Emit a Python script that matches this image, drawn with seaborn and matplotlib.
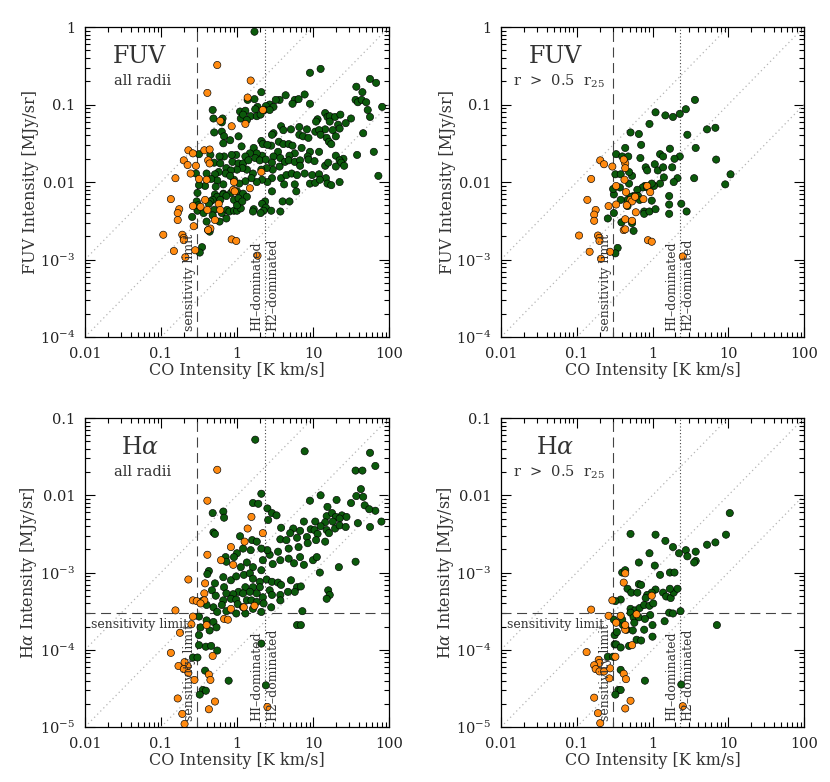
import numpy as np
import pandas as pd
import matplotlib
matplotlib.use('Agg')
import matplotlib.pyplot as plt
import matplotlib.transforms as mtransforms
import seaborn as sns
from matplotlib.ticker import FixedLocator, FixedFormatter, LogLocator, NullFormatter

# values, stored as log10
# x = CO intensity [K km/s], y = FUV or Halpha intensity [MJy/sr]
# g = green points, o = orange points

# FUV, all radii
fuv_all_g_co = [0.23, 0.96, 1.10, 1.57, 1.75, 1.83, 0.32, 1.65, 0.89, 0.14, 0.23, 0.56, 0.64, 0.76, 0.81, 0.73,
                0.51, 0.43, 0.48, 0.38, 0.27, 0.24, 0.36, 0.43, -0.32, 0.04, 0.11, 0.18, 0.26, 0.05, 0.31, 0.08,
                1.56, 1.59, 1.64, 1.70, 1.72, 0.96, 1.75, 1.91, -0.31, -0.19, -0.20, 0.13, 1.06, 1.04, 1.16, 1.19,
                1.22, 1.29, 1.36, 1.50, 1.33, 1.22, 1.43, 1.26, 1.35, 1.16, 0.58, 0.71, 0.82, 0.92, 1.03, 1.08,
                0.82, 0.87, 0.94, 1.10, 1.18, 1.30, 1.21, 1.24, 1.66, -0.30, -0.20, -0.17, 0.02, 0.48, 0.61, 0.46,
                -0.18, -0.09, 0.06, 0.22, 0.32, 0.34, 0.45, 0.40, 0.55, 0.61, 0.68, 0.73, 0.85, 0.96, 1.08, 0.93,
                0.54, 0.48, 0.33, 0.26, 0.17, 0.11, -0.01, -0.07, -0.17, -0.23, -0.35, -0.50, -0.30, 1.58, 1.80, 1.30,
                1.40, 0.76, 0.69, -0.22, -0.14, -0.06, 0.02, 0.08, 0.15, 0.24, 0.30, 0.38, 0.46, 0.57, 0.63, 0.68,
                0.76, 0.83, 0.94, 0.83, 1.02, 1.16, 1.35, 1.37, 1.41, 1.20, 0.56, 0.47, 0.39, 0.32, 0.21, 0.13,
                0.07, 0.00, -0.08, -0.15, -0.24, -0.29, -0.54, -0.40, 0.58, 0.65, 0.72, 0.79, 0.89, 0.99, 1.08, 1.17,
                1.30, 0.96, 1.03, 1.09, 1.19, 1.24, 1.35, 1.86, 0.62, 0.76, 0.46, 0.40, 0.33, 0.26, 0.19, 0.11,
                0.03, -0.04, -0.09, -0.18, -0.26, -0.34, -0.42, -0.50, -0.52, -0.28, -0.18, -0.08, 0.00, 0.08, -0.29, -0.26,
                -0.18, -0.32, -0.35, -0.14, -0.22, -0.04, 0.02, 0.13, 0.60, 0.69, 0.46, 0.78, 0.37, 0.33, 0.38, 0.35,
                0.22, 0.45, 0.57, -0.53, -0.52, -0.44, -0.37, -0.30, -0.20, -0.13, -0.10, -0.04, 0.00, 0.05, 0.00, 0.21,
                0.07, -0.51, -0.32, -0.14, -0.23, -0.59, -0.40, -0.38, -0.36, -0.46, -0.49, 0.31]
fuv_all_g_y = [-0.06, -0.59, -0.54, -0.77, -0.67, -0.72, -0.84, -0.84, -0.87, -0.94, -0.93, -0.94, -0.88, -0.94, -0.93, -0.99,
               -0.94, -1.00, -1.03, -1.02, -1.03, -1.06, -1.07, -1.07, -1.07, -1.09, -1.08, -1.15, -1.15, -1.18, -1.13, -1.13,
               -0.94, -0.97, -0.94, -0.97, -1.07, -0.99, -1.16, -1.03, -1.18, -1.18, -1.23, -1.20, -1.19, -1.22, -1.11, -1.16,
               -1.15, -1.16, -1.13, -1.18, -1.26, -1.22, -1.24, -1.33, -1.31, -1.32, -1.28, -1.32, -1.29, -1.32, -1.35, -1.33,
               -1.39, -1.41, -1.43, -1.39, -1.43, -1.41, -1.48, -1.51, -1.37, -1.36, -1.35, -1.41, -1.41, -1.37, -1.33, -1.39,
               -1.50, -1.46, -1.54, -1.56, -1.47, -1.51, -1.53, -1.52, -1.48, -1.51, -1.51, -1.53, -1.56, -1.61, -1.61, -1.67,
               -1.61, -1.67, -1.66, -1.63, -1.63, -1.67, -1.65, -1.65, -1.67, -1.67, -1.65, -1.64, -1.75, -1.65, -1.61, -1.66,
               -1.70, -1.63, -1.66, -1.76, -1.82, -1.74, -1.76, -1.76, -1.72, -1.69, -1.72, -1.71, -1.75, -1.69, -1.74, -1.72,
               -1.74, -1.72, -1.71, -1.79, -1.73, -1.79, -1.72, -1.75, -1.79, -1.75, -1.80, -1.84, -1.82, -1.84, -1.89, -1.84,
               -1.82, -1.84, -1.85, -1.89, -1.87, -1.90, -1.89, -1.89, -1.95, -1.91, -1.89, -1.91, -1.89, -1.91, -1.90, -1.95,
               -1.80, -2.02, -2.01, -1.97, -2.02, -2.04, -2.00, -1.92, -2.03, -2.03, -1.95, -2.00, -1.97, -2.00, -1.95, -1.99,
               -2.02, -1.97, -1.92, -2.03, -1.98, -1.96, -2.05, -2.04, -2.14, -2.06, -2.15, -2.14, -2.12, -2.15, -2.16, -2.19,
               -2.16, -2.23, -2.25, -2.18, -2.23, -2.23, -2.21, -2.19, -2.25, -2.25, -2.12, -2.12, -2.25, -2.28, -2.33, -2.37,
               -2.35, -2.37, -2.38, -2.25, -2.37, -2.40, -2.28, -2.36, -2.40, -2.36, -2.38, -2.37, -2.37, -2.34, -2.30, -2.38,
               -2.25, -2.30, -2.43, -2.47, -2.51, -2.45, -2.51, -2.62, -2.64, -2.84, -2.91, -2.40]
fuv_all_o_co = [-0.26, 0.18, -0.39, 0.14, 0.34, -0.22, -0.07, 0.11, -0.64, -0.58, -0.43, -0.36, -0.70, -0.65, -0.38, -0.36,
                -0.54, -0.81, -0.61, -0.50, -0.40, -0.87, -0.76, -0.78, -0.78, -0.58, -0.42, -0.48, -0.39, -0.29, -0.57, -0.35,
                -0.38, -0.97, -0.72, -0.70, -0.70, -0.07, -0.01, -0.83, -0.68, -0.55, 0.27, -0.05, -0.03, 0.17, 0.32, -0.24,
                -0.22, -0.04]
fuv_all_o_y = [-0.49, -0.69, -0.85, -0.91, -1.07, -1.21, -1.28, -1.25, -1.59, -1.63, -1.59, -1.58, -1.72, -1.78, -1.72, -1.76,
               -1.79, -1.95, -1.89, -1.96, -1.97, -2.22, -2.35, -2.40, -2.49, -2.31, -2.23, -2.32, -2.36, -2.49, -2.57, -2.60,
               -2.62, -2.68, -2.68, -2.72, -2.75, -2.74, -2.76, -2.89, -2.97, -2.88, -2.95, -2.10, -2.12, -2.08, -1.87, -2.28,
               -2.36, -2.00]

# FUV, r > 0.5 r25
fuv_out_g_co = [0.56, 0.04, 0.17, 0.27, 0.36, 0.44, -0.04, -0.29, -0.18, 0.72, 0.83, 0.46, -0.15, -0.36, -0.48, -0.40,
                -0.32, -0.16, 0.23, 0.57, 0.10, 0.14, 0.36, 0.29, 0.84, 0.03, 0.07, 0.14, 0.26, -0.09, -0.49, -0.42,
                -0.27, -0.31, -0.07, 0.33, 0.28, 0.15, 0.10, 0.02, -0.01, -0.10, -0.13, 0.55, 1.03, 0.96, -0.20, -0.31,
                -0.43, -0.51, -0.52, -0.25, -0.29, -0.19, -0.33, -0.17, -0.07, -0.01, -0.42, -0.33, -0.11, -0.11, -0.04, 0.04,
                0.22, 0.22, 0.22, 0.38, 0.45, -0.51, -0.59, -0.41, -0.27, -0.25, -0.46, -0.49]
fuv_out_g_y = [-0.94, -1.10, -1.14, -1.16, -1.12, -1.06, -1.25, -1.36, -1.38, -1.32, -1.30, -1.39, -1.52, -1.56, -1.64, -1.67,
               -1.67, -1.69, -1.57, -1.56, -1.64, -1.67, -1.67, -1.70, -1.71, -1.77, -1.85, -1.81, -1.81, -1.81, -1.90, -1.90,
               -1.92, -1.87, -1.85, -1.95, -2.00, -1.94, -2.02, -2.05, -2.02, -2.05, -2.07, -1.95, -1.90, -2.03, -2.10, -2.02,
               -2.07, -2.16, -2.09, -2.18, -2.19, -2.18, -2.23, -2.23, -2.07, -2.24, -2.23, -2.31, -2.38, -2.41, -2.38, -2.35,
               -2.18, -2.29, -2.41, -2.28, -2.38, -2.40, -2.47, -2.52, -2.53, -2.63, -2.85, -2.92]
fuv_out_o_co = [-0.69, -0.64, -0.53, -0.81, -0.36, -0.38, -0.36, -0.37, -0.48, -0.35, -0.86, -0.48, -0.58, -0.29, -0.27, -0.34,
                -0.75, -0.77, -0.77, -0.22, -0.36, -0.27, -0.38, -0.36, -0.97, -0.72, -0.70, -0.70, -0.06, -0.01, -0.83, -0.68,
                -0.56, 0.40, -0.07, -0.03, -0.23, -0.12]
fuv_out_o_y = [-1.72, -1.77, -1.80, -1.96, -1.76, -1.71, -1.82, -1.97, -2.05, -2.13, -2.23, -2.29, -2.31, -2.23, -2.25, -2.30,
               -2.36, -2.42, -2.50, -2.39, -2.48, -2.50, -2.62, -2.61, -2.69, -2.69, -2.72, -2.76, -2.75, -2.77, -2.90, -2.99,
               -2.90, -2.96, -2.05, -2.13, -2.19, -2.22]

# Halpha, all radii
ha_all_g_co = [0.24, 0.89, 1.75, 1.82, 1.56, 1.65, 0.32, 0.96, 1.10, 1.57, 1.63, 1.68, 1.66, 1.82, 1.74, 1.90,
               1.50, 1.19, 1.31, 1.59, 1.75, 1.56, 0.40, 0.46, 0.52, 0.21, 0.28, -0.32, -0.18, -0.17, -0.31, -0.29,
               0.41, 0.58, 0.74, 0.88, 1.03, 1.18, 1.25, 1.30, 1.38, 1.44, 1.35, 1.26, 1.16, 1.10, 0.97, 1.02,
               0.83, 0.70, 0.57, 0.65, 0.79, 0.92, 1.06, 1.18, 1.29, 1.35, 1.43, 1.21, 1.16, 1.04, 0.93, 0.81,
               0.68, 0.54, 0.43, 0.34, 0.40, 0.32, 0.18, 0.08, 0.04, 0.20, 0.26, 0.00, -0.15, -0.14, -0.04, 0.05,
               0.13, 0.21, 0.32, 0.47, 0.57, 0.68, 0.75, 0.83, 0.88, 1.00, 1.09, 1.34, 1.05, -0.37, -0.39, -0.18,
               -0.17, -0.29, -0.33, -0.08, -0.01, 0.09, 0.17, 0.21, 0.30, 0.39, 0.46, 0.54, 0.58, 0.71, 0.79, 0.84,
               1.20, 1.22, 1.18, 0.30, 0.21, 0.11, 0.02, 0.08, 0.17, 0.26, 0.34, 0.43, 0.46, 0.57, 0.67, 0.76,
               -0.05, -0.14, -0.08, -0.01, 0.13, 0.19, 0.26, 0.35, 0.45, 0.57, -0.28, -0.18, -0.20, -0.31, -0.26, -0.40,
               -0.46, 0.01, 0.08, 0.21, 0.32, 0.11, -0.01, -0.14, 0.86, 0.79, 0.84, -0.50, -0.40, -0.31, -0.48, -0.36,
               -0.27, -0.50, -0.50, -0.41, -0.34, -0.26, -0.58, -0.52, -0.42, 0.32, -0.11, -0.45, -0.41, -0.49, 0.38]
ha_all_g_y = [-1.28, -1.43, -1.45, -1.62, -1.68, -1.68, -1.98, -2.07, -2.00, -2.01, -1.92, -2.13, -2.02, -2.20, -2.18, -2.34,
              -2.10, -2.15, -2.06, -2.36, -2.41, -2.86, -2.17, -2.23, -2.26, -2.10, -2.11, -2.23, -2.21, -2.29, -2.48, -2.50,
              -2.32, -2.42, -2.43, -2.34, -2.34, -2.27, -2.23, -2.28, -2.26, -2.28, -2.30, -2.34, -2.35, -2.40, -2.44, -2.45,
              -2.46, -2.49, -2.57, -2.58, -2.55, -2.54, -2.50, -2.45, -2.43, -2.39, -2.41, -2.49, -2.60, -2.58, -2.62, -2.67,
              -2.69, -2.73, -2.77, -2.84, -2.71, -2.69, -2.71, -2.69, -2.53, -2.58, -2.60, -2.75, -2.80, -2.86, -2.80, -2.93,
              -2.87, -2.93, -2.97, -2.89, -2.84, -2.82, -2.88, -2.80, -2.90, -2.84, -3.00, -2.93, -2.80, -2.98, -3.02, -3.06,
              -3.19, -3.14, -3.23, -3.10, -3.05, -3.03, -3.01, -3.08, -3.12, -3.09, -3.12, -3.13, -3.16, -3.10, -3.19, -3.18,
              -3.23, -3.29, -3.34, -3.19, -3.19, -3.19, -3.25, -3.27, -3.25, -3.27, -3.32, -3.23, -3.29, -3.29, -3.25, -3.25,
              -3.28, -3.27, -3.34, -3.35, -3.36, -3.36, -3.38, -3.40, -3.45, -3.36, -3.30, -3.36, -3.42, -3.45, -3.51, -3.42,
              -3.37, -3.41, -3.45, -3.47, -3.51, -3.53, -3.53, -3.50, -3.50, -3.68, -3.68, -3.57, -3.62, -3.64, -3.71, -3.75,
              -3.71, -3.81, -3.94, -3.96, -3.95, -4.01, -4.10, -4.10, -4.27, -3.92, -4.40, -4.52, -4.53, -4.58, -4.46]
ha_all_o_co = [-0.26, -0.39, 0.19, 0.14, 0.34, -0.08, -0.39, -0.21, -0.05, 0.10, -0.64, -0.42, -0.43, -0.58, -0.53, -0.81,
               -0.58, -0.75, -0.60, -0.87, -0.77, -0.65, -0.69, -0.70, -0.64, -0.56, -0.37, -0.35, -0.78, -0.72, -0.69, -0.37,
               -0.29, 0.40, -0.40, -0.32, 0.23, 0.09, -0.17, -0.12, -0.43, -0.48, -0.08]
ha_all_o_y = [-1.67, -2.07, -2.28, -2.43, -2.49, -2.67, -2.77, -2.84, -2.90, -2.60, -3.09, -3.14, -3.27, -3.36, -3.37, -3.49,
              -3.57, -3.78, -3.67, -4.04, -4.21, -4.21, -4.16, -4.25, -4.30, -4.39, -4.32, -4.39, -4.63, -4.83, -4.96, -4.77,
              -4.67, -4.74, -3.68, -4.08, -3.43, -3.45, -3.60, -3.61, -3.36, -3.40, -3.47]

# Halpha, r > 0.5 r25
ha_out_g_co = [1.02, 0.04, -0.29, 0.17, 0.27, -0.04, 0.35, 0.44, 0.46, 0.57, 0.57, 0.55, 0.72, 0.83, 0.97, -0.18,
               0.03, -0.40, -0.36, 0.10, 0.23, 0.29, -0.18, -0.33, -0.28, -0.20, -0.15, 0.04, 0.14, 0.18, 0.24, 0.28,
               0.23, 0.33, -0.01, -0.07, -0.09, -0.42, -0.49, -0.51, -0.29, -0.23, -0.17, -0.29, -0.25, -0.18, -0.11, -0.04,
               0.01, -0.03, -0.10, -0.24, -0.39, -0.34, -0.26, -0.40, 0.22, 0.27, 0.37, 0.16, 0.00, -0.11, -0.21, -0.31,
               -0.15, 0.00, -0.50, -0.50, -0.48, -0.59, -0.52, -0.42, -0.47, -0.42, -0.10, -0.45, -0.42, -0.49, 0.38, 0.85]
ha_out_g_y = [-2.23, -2.51, -2.50, -2.59, -2.67, -2.75, -2.75, -2.71, -2.79, -2.73, -2.85, -2.87, -2.64, -2.61, -2.51, -2.87,
              -2.91, -3.00, -2.97, -3.03, -3.00, -3.00, -3.15, -3.21, -3.26, -3.26, -3.16, -3.22, -3.26, -3.31, -3.33, -3.26,
              -3.21, -3.21, -3.26, -3.29, -3.33, -3.35, -3.37, -3.61, -3.47, -3.49, -3.46, -3.52, -3.58, -3.58, -3.42, -3.43,
              -3.40, -3.55, -3.60, -3.65, -3.68, -3.74, -3.75, -3.61, -3.52, -3.53, -3.50, -3.63, -3.68, -3.74, -3.87, -3.95,
              -3.88, -3.83, -3.81, -3.93, -3.93, -4.09, -4.09, -3.97, -3.77, -4.26, -4.40, -4.52, -4.52, -4.58, -4.45, -3.68]
ha_out_o_co = [-0.81, -0.53, -0.58, -0.38, -0.36, -0.42, -0.48, -0.36, -0.36, -0.21, -0.01, -0.27, -0.87, -0.71, -0.70, -0.77,
               -0.75, -0.70, -0.64, -0.57, -0.38, -0.35, -0.77, -0.72, -0.69, -0.36, -0.29, 0.40, -0.49, -0.56]
ha_out_o_y = [-3.48, -3.36, -3.56, -3.13, -3.01, -3.56, -3.65, -3.74, -3.68, -3.54, -3.30, -3.94, -4.03, -4.13, -4.17, -4.20,
              -4.25, -4.28, -4.28, -4.37, -4.31, -4.38, -4.62, -4.82, -4.95, -4.76, -4.66, -4.73, -4.09, -4.24]

co_sens = 0.3        # CO sensitivity limit [K km/s]
co_hi_h2 = 2.3       # HI/H2 transition [K km/s]
ha_sens = 3e-4       # Halpha sensitivity limit [MJy/sr]

GREEN = '#0b5a0b'
ORANGE = '#ff8a10'
GREY = '#444444'
TXT = '#333333'

sns.set_style('ticks')
plt.rcParams['font.family'] = ['DejaVu Serif']
plt.rcParams['mathtext.fontset'] = 'dejavuserif'


def make_df(gx, gy, ox, oy):
    return pd.DataFrame({
        'co': 10.0 ** np.r_[gx, ox],
        'inten': 10.0 ** np.r_[gy, oy],
        'kind': ['g'] * len(gx) + ['o'] * len(ox),
    })


def draw_panel(ax, df, band, subtitle, ymin, ylabels, ratios, halpha):
    # constant-ratio reference lines
    for r in ratios:
        ax.axline((1.0, r), (10.0, 10.0 * r), color='#b5b5b5', lw=0.9, ls=(0, (1, 2.5)), zorder=1)
    ax.axvline(co_sens, color=GREY, lw=0.8, ls=(0, (9, 5)), zorder=1)
    ax.axvline(co_hi_h2, color=GREY, lw=0.8, ls=(0, (1, 2)), zorder=1)
    if halpha:
        ax.axhline(ha_sens, color=GREY, lw=0.8, ls=(0, (9, 5)), zorder=1)

    sns.scatterplot(data=df, x='co', y='inten', hue='kind', palette={'g': GREEN, 'o': ORANGE},
                    s=27, edgecolor='black', linewidth=0.45, legend=False, ax=ax, zorder=3)

    ax.set_xscale('log')
    ax.set_yscale('log')
    ax.set_xlim(0.01, 100)
    ax.set_ylim(ymin, ymin * 1e4)

    ax.xaxis.set_major_locator(FixedLocator([0.01, 0.1, 1, 10, 100]))
    ax.xaxis.set_major_formatter(FixedFormatter(['0.01', '0.1', '1', '10', '100']))
    ax.xaxis.set_minor_locator(LogLocator(base=10, subs=np.arange(2, 10)))
    ax.xaxis.set_minor_formatter(NullFormatter())
    yt = [ymin * 10 ** k for k in range(5)]
    ax.yaxis.set_major_locator(FixedLocator(yt))
    ax.yaxis.set_major_formatter(FixedFormatter(ylabels))
    ax.yaxis.set_minor_locator(LogLocator(base=10, subs=np.arange(2, 10)))
    ax.yaxis.set_minor_formatter(NullFormatter())
    ax.tick_params(which='both', direction='in', top=True, right=True, colors='black',
                   labelcolor='#222222', labelsize=10.5, width=0.8)
    ax.tick_params(which='major', length=7, pad=7)
    ax.tick_params(which='minor', length=3.5)
    for sp in ax.spines.values():
        sp.set_linewidth(0.9)
        sp.set_color('black')

    ax.set_xlabel('CO Intensity [K km/s]', fontsize=11.5, color=TXT)
    name = 'FUV' if not halpha else r'H$\alpha$'
    ax.set_ylabel(name + ' Intensity [MJy/sr]', fontsize=11.5, color=TXT)
    ax.xaxis.set_label_coords(0.5, -0.08)
    ax.yaxis.set_label_coords(-0.15, 0.5)

    ax.text(0.18, 0.905, band, transform=ax.transAxes, fontsize=17, color=TXT, ha='center', va='center')
    ax.text(0.19, 0.825, subtitle, transform=ax.transAxes, fontsize=10.5, color=TXT, ha='center', va='center')

    tr = mtransforms.blended_transform_factory(ax.transData, ax.transAxes)
    ax.text(co_sens * 0.96, 0.02, 'sensitivity limit', transform=tr, rotation=90, fontsize=9,
            color=TXT, ha='right', va='bottom')
    ax.text(co_hi_h2 * 0.96, 0.02, 'HI\u2013dominated', transform=tr, rotation=90, fontsize=9,
            color=TXT, ha='right', va='bottom')
    ax.text(co_hi_h2 * 1.04, 0.02, 'H2\u2013dominated', transform=tr, rotation=90, fontsize=9,
            color=TXT, ha='left', va='bottom')
    if halpha:
        tr2 = mtransforms.blended_transform_factory(ax.transAxes, ax.transData)
        ax.text(0.02, ha_sens * 0.86, 'sensitivity limit', transform=tr2, fontsize=9,
                color=TXT, ha='left', va='top')


fig = plt.figure(figsize=(8.3, 7.82), dpi=100)
ax_fa = fig.add_axes([0.1024, 0.569, 0.3663, 0.3964])
ax_fo = fig.add_axes([0.6036, 0.569, 0.3651, 0.3964])
ax_ha = fig.add_axes([0.1024, 0.0703, 0.3663, 0.3951])
ax_ho = fig.add_axes([0.6036, 0.0703, 0.3651, 0.3951])

fuv_ticks = ['$10^{-4}$', '$10^{-3}$', '0.01', '0.1', '1']
ha_ticks = ['$10^{-5}$', '$10^{-4}$', '$10^{-3}$', '0.01', '0.1']
outer = r'r  >  0.5  r$_{25}$'

draw_panel(ax_fa, make_df(fuv_all_g_co, fuv_all_g_y, fuv_all_o_co, fuv_all_o_y),
           'FUV', 'all radii', 1e-4, fuv_ticks, [0.1, 0.01, 0.001], False)
draw_panel(ax_fo, make_df(fuv_out_g_co, fuv_out_g_y, fuv_out_o_co, fuv_out_o_y),
           'FUV', outer, 1e-4, fuv_ticks, [0.1, 0.01, 0.001], False)
draw_panel(ax_ha, make_df(ha_all_g_co, ha_all_g_y, ha_all_o_co, ha_all_o_y),
           r'H$\alpha$', 'all radii', 1e-5, ha_ticks, [0.01, 0.001, 0.0001], True)
draw_panel(ax_ho, make_df(ha_out_g_co, ha_out_g_y, ha_out_o_co, ha_out_o_y),
           r'H$\alpha$', outer, 1e-5, ha_ticks, [0.01, 0.001, 0.0001], True)

fig.savefig('out.png', dpi=100, facecolor='white')
